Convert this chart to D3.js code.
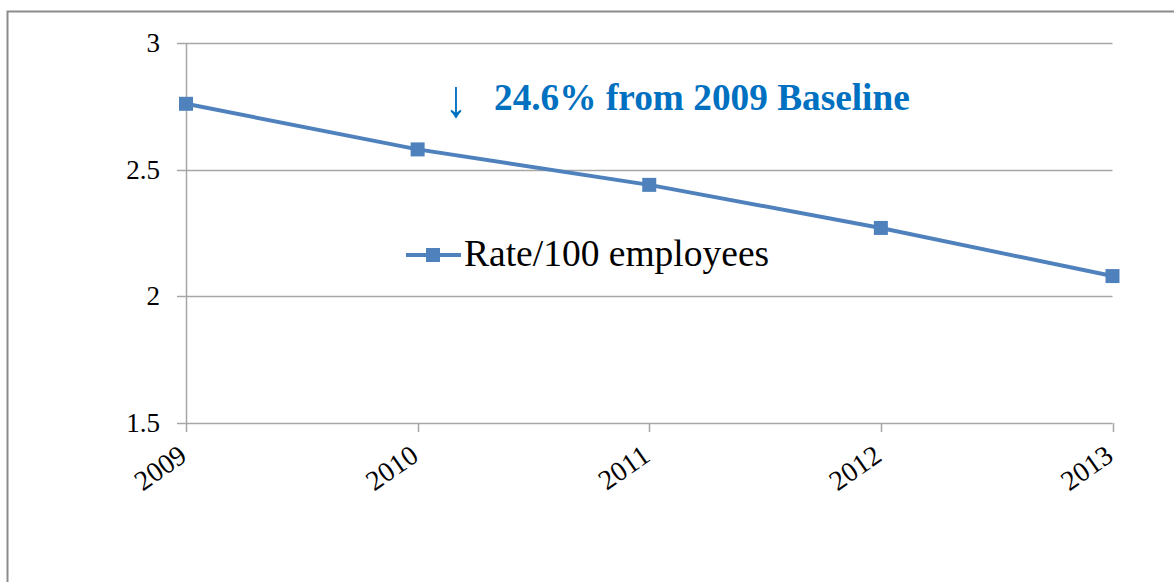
<!DOCTYPE html>
<html><head><meta charset="utf-8">
<script src="https://cdn.jsdelivr.net/npm/d3@7"></script>
<style>html,body{margin:0;padding:0;background:#fff;overflow:hidden}</style>
</head><body>
<svg id="c" width="1174" height="582"></svg>
<script>
const years = ["2009","2010","2011","2012","2013"];
const rates = [2.76, 2.58, 2.44, 2.27, 2.08];
const yTicks = [1.5, 2, 2.5, 3];
const seriesName = "Rate/100 employees";
const annotationArrow = "↓";
const annotationText = "24.6% from 2009 Baseline";

const svg = d3.select("#c");
const serif = "Liberation Serif, Times New Roman, serif";
const blue = "#4F81BD";
const grid = "#A6A6A6";

// outer frame
svg.append("rect").attr("x",7.5).attr("y",11.5).attr("width",1200).attr("height",620)
  .attr("fill","none").attr("stroke","#8C8C8C").attr("stroke-width",2);

const x = d3.scalePoint().domain(years).range([186, 1112.5]);
const y = d3.scaleLinear().domain([1.5, 3]).range([423, 43]);

// gridlines
svg.append("g").selectAll("line").data(yTicks).join("line")
  .attr("x1",177).attr("x2",1112.5)
  .attr("y1",d=>Math.round(y(d))+0.5).attr("y2",d=>Math.round(y(d))+0.5)
  .attr("stroke",grid).attr("stroke-width",1.5);

// y axis line
svg.append("line").attr("x1",186.5).attr("x2",186.5).attr("y1",y(3)).attr("y2",432)
  .attr("stroke",grid).attr("stroke-width",1.5);
// x ticks
svg.append("g").selectAll("line").data(years.slice(1)).join("line")
  .attr("x1",d=>Math.round(x(d))+0.5).attr("x2",d=>Math.round(x(d))+0.5)
  .attr("y1",y(1.5)).attr("y2",432)
  .attr("stroke",grid).attr("stroke-width",1.5);

// y labels
svg.append("g").selectAll("text").data(yTicks).join("text")
  .attr("x",160).attr("y",d=>y(d)+9)
  .attr("text-anchor","end").attr("font-family",serif).attr("font-size",27).attr("fill","#000")
  .text(d=>d);

// x labels
svg.append("g").selectAll("text").data(years).join("text")
  .attr("transform",d=>`translate(${x(d)-9},${443}) rotate(-35)`)
  .attr("text-anchor","end").attr("dy","0.72em")
  .attr("font-family",serif).attr("font-size",28).attr("fill","#000")
  .text(d=>d);

// line
const pts = years.map((yr,i)=>[x(yr), y(rates[i])]);
svg.append("path").attr("d", d3.line()(pts)).attr("fill","none")
  .attr("stroke",blue).attr("stroke-width",4);
svg.append("g").selectAll("rect").data(pts).join("rect")
  .attr("x",d=>d[0]-7).attr("y",d=>d[1]-7).attr("width",14).attr("height",14)
  .attr("fill",blue);

// legend
svg.append("line").attr("x1",406).attr("x2",461).attr("y1",255).attr("y2",255)
  .attr("stroke",blue).attr("stroke-width",4);
svg.append("rect").attr("x",426).attr("y",248).attr("width",14).attr("height",14).attr("fill",blue);
svg.append("text").attr("x",464).attr("y",266).attr("font-family",serif).attr("font-size",37.5)
  .attr("fill","#000").text(seriesName);

// annotation
svg.append("text").attr("transform","translate(456,117) scale(1,1.2)")
  .attr("text-anchor","middle")
  .attr("font-family",serif).attr("font-size",44).attr("fill","#0070C0")
  .text(annotationArrow);
svg.append("text").attr("x",494).attr("y",110).attr("font-family",serif).attr("font-weight","bold")
  .attr("font-size",37.3).attr("fill","#0070C0").text(annotationText);
</script>
</body></html>
